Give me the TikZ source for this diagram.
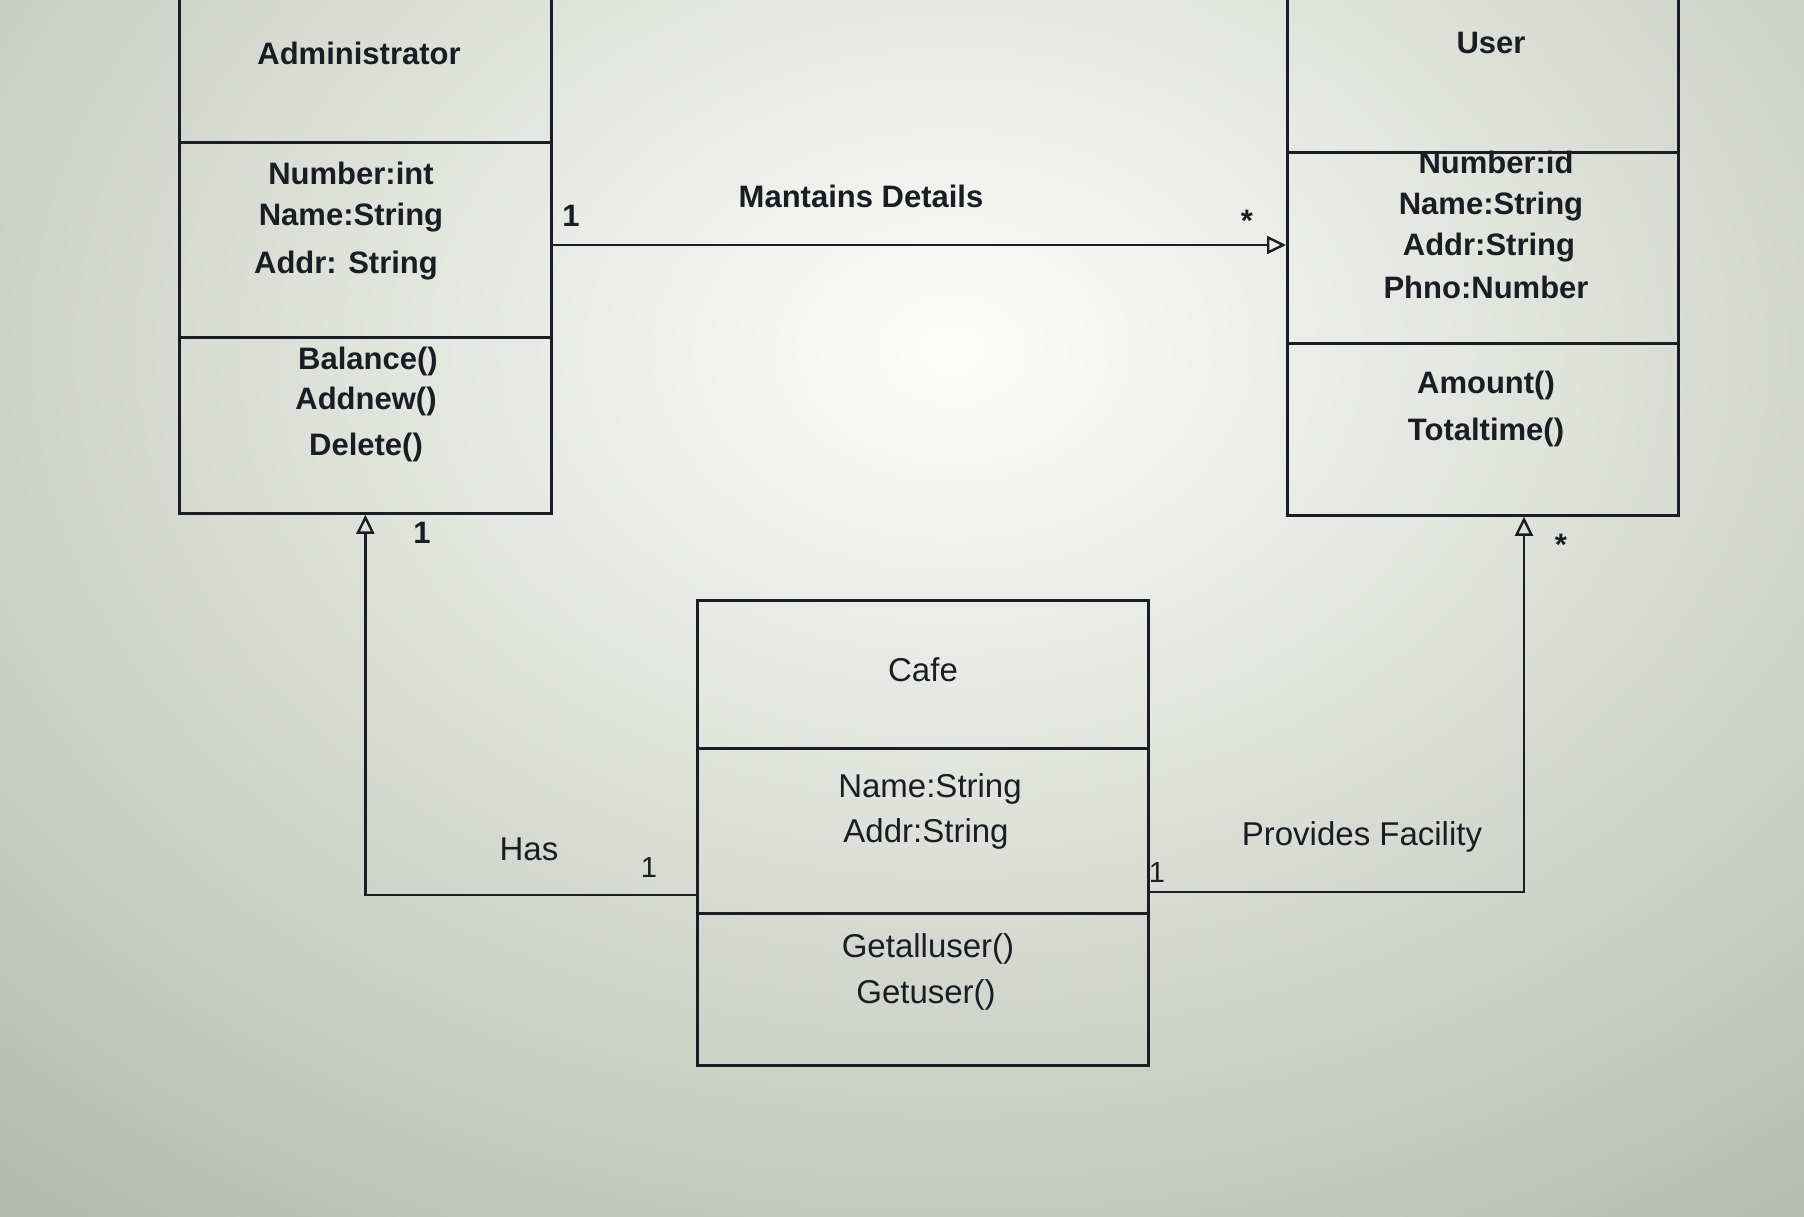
\documentclass[tikz,border=0pt]{standalone}
\usepackage{fontspec}
\setmainfont{Liberation Sans}
\usetikzlibrary{arrows.meta}
\definecolor{ink}{RGB}{28,28,36}
\definecolor{bgout}{RGB}{178,183,170}
\definecolor{bgin}{RGB}{253,253,251}
\begin{document}
\begin{tikzpicture}[x=1pt,y=-1pt,
  compart/.style={draw=ink, line width=2.8pt, inner sep=0pt, anchor=north west},
  bt/.style={text=ink, font=\fontsize{31}{34}\selectfont\bfseries, anchor=base, inner sep=0pt},
  rt/.style={text=ink, font=\fontsize{33}{36}\selectfont, anchor=base, inner sep=0pt},
  assoc/.style={draw=ink, line width=2.4pt, -{Triangle[open, length=19pt, width=18pt, line width=2.4pt]}}]
\useasboundingbox (0,0) rectangle (1804,1216);
\shade[inner color=bgin, outer color=bgout] (-600,-800) rectangle (2504,1500);
% Administrator
\node[compart, minimum width=372pt, minimum height=176pt] (admintitle) at (178,-35) {};
\node[compart, minimum width=372pt, minimum height=195pt] (adminattr) at (178,141) {};
\node[compart, minimum width=372pt, minimum height=176pt] (adminops) at (178,336) {};
\node[bt] (tadmin) at (359,64) {Administrator};
\node[bt] (ta1) at (351,184) {Number:int};
\node[bt] (ta2) at (351,225) {Name:String};
\node[bt] (ta3) at (346,273) {Addr: String};
\node[bt] (ta4) at (368,369) {Balance()};
\node[bt] (ta5) at (366,409) {Addnew()};
\node[bt] (ta6) at (366,455) {Delete()};
% User
\node[compart, minimum width=391pt, minimum height=186pt] (usertitle) at (1286,-35) {};
\node[compart, minimum width=391pt, minimum height=191pt] (userattr) at (1286,151) {};
\node[compart, minimum width=391pt, minimum height=172pt] (userops) at (1286,342) {};
\node[bt] (tuser) at (1491,53) {User};
\node[bt] (tu1) at (1496,173) {Number:id};
\node[bt] (tu2) at (1491,214) {Name:String};
\node[bt] (tu3) at (1489,255) {Addr:String};
\node[bt] (tu4) at (1486,298) {Phno:Number};
\node[bt] (tu5) at (1486,393) {Amount()};
\node[bt] (tu6) at (1486,440) {Totaltime()};
% Cafe
\node[compart, minimum width=451pt, minimum height=148pt] (cafetitle) at (696,599) {};
\node[compart, minimum width=451pt, minimum height=165pt] (cafeattr) at (696,747) {};
\node[compart, minimum width=451pt, minimum height=152pt] (cafeops) at (696,912) {};
\node[rt] (tcafe) at (923,681) {Cafe};
\node[rt] (tc1) at (930,797) {Name:String};
\node[rt] (tc2) at (926,842) {Addr:String};
\node[rt] (tc3) at (928,957) {Getalluser()};
\node[rt] (tc4) at (926,1003) {Getuser()};
% connectors
\draw[assoc] (adminattr.east |- 0,245) -- (userattr.west |- 0,245);
\draw[assoc] (cafeattr.west |- 0,895) -| (adminops.south);
\draw[assoc] (cafeattr.east |- 0,892) -| (userops.south -| 1524,0);
% labels
\node[bt] (lmd) at (861,207) {Mantains Details};
\node[rt] (lhas) at (529,860) {Has};
\node[rt] (lpf) at (1362,845) {Provides Facility};
\node[bt] (m1) at (571,226) {1};
\node[bt] (m2) at (1247,231) {*};
\node[bt] (m3) at (422,543) {1};
\node[rt, font=\fontsize{29}{32}\selectfont] (m4) at (649,877) {1};
\node[rt, font=\fontsize{29}{32}\selectfont] (m5) at (1157,882) {1};
\node[bt] (m6) at (1561,555) {*};
\end{tikzpicture}
\end{document}
